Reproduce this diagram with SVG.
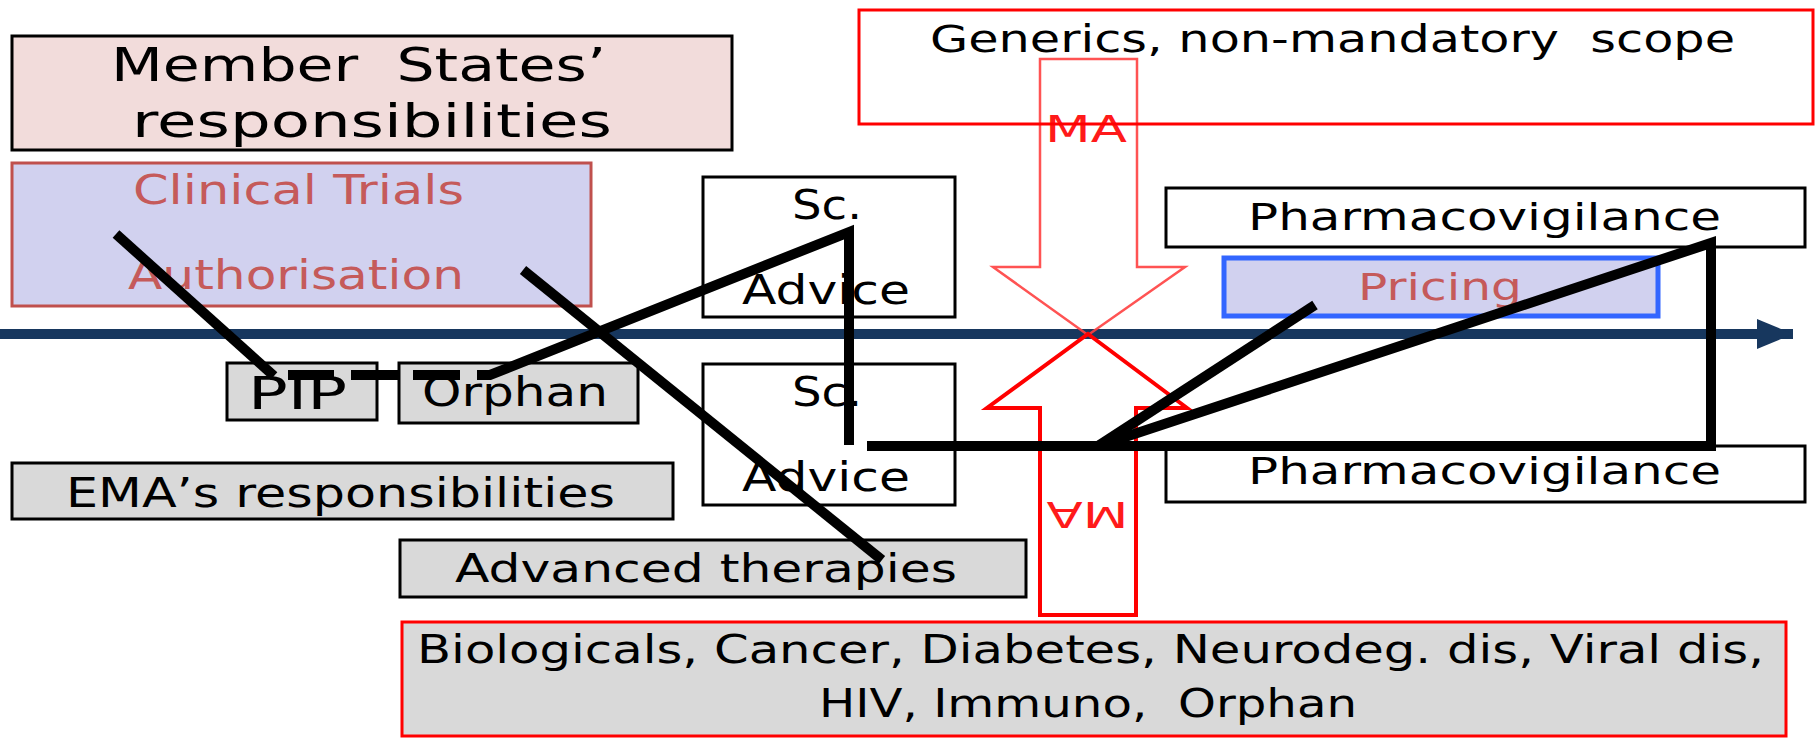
<svg xmlns="http://www.w3.org/2000/svg" width="1816" height="741" viewBox="0 0 1816 741">
  <style>
    text { font-family: "DejaVu Sans", Verdana, sans-serif; fill: #000; white-space: pre; }
    .box { stroke: #000; stroke-width: 3; }
    .white { fill: #fff; }
    .grey { fill: #d9d9d9; }
    .lav { fill: #d1d1ef; }
    .rose { fill: #f2dcdb; }
    .redtxt { fill: #c55a5a; }
    .link { fill: none; stroke: #000; stroke-width: 10; stroke-linecap: butt; stroke-linejoin: miter; }
  </style>
  <defs>
    <marker id="timeHead" markerUnits="userSpaceOnUse" markerWidth="40" markerHeight="34" refX="36" refY="15" orient="auto">
      <path d="M0,0 L36,15 L0,30 Z" fill="#17375e"/>
    </marker>
  </defs>

  <!-- timeline -->
  <g id="timeline">
    <line x1="0" y1="334" x2="1793" y2="334" stroke="#17375e" stroke-width="10" marker-end="url(#timeHead)"/>
  </g>

  <!-- marketing authorisation arrows -->
  <g id="ma-down">
    <polygon points="1040,59 1137,59 1137,267 1185,267 1088,335 993,267 1040,267" fill="none" stroke="#ff4040" stroke-width="2.5" stroke-opacity="0.9"/>
    <text x="1045" y="142" font-size="38" textLength="82" lengthAdjust="spacingAndGlyphs" style="fill:#ff1a1a">MA</text>
  </g>
  <g id="ma-up">
    <polygon points="1088,334 1187,408 1136,408 1136,615 1040,615 1040,408 987,408" fill="none" stroke="#ff0000" stroke-width="4"/>
    <text x="1087.5" y="528.5" font-size="36" text-anchor="middle" textLength="82" lengthAdjust="spacingAndGlyphs" transform="rotate(180 1087.5 515)" style="fill:#ff1a1a">MA</text>
  </g>

  <g id="member-states">
    <rect class="box rose" x="12" y="36" width="720" height="114"/>
    <text x="111" y="81" font-size="46" textLength="495" lengthAdjust="spacingAndGlyphs">Member  States’</text>
    <text x="132" y="137" font-size="46" textLength="480" lengthAdjust="spacingAndGlyphs">responsibilities</text>
  </g>

  <g id="clinical-trials">
    <rect class="lav" x="12" y="163" width="579" height="143" stroke="#c0504d" stroke-width="3"/>
    <text class="redtxt" x="133" y="204" font-size="40" textLength="331" lengthAdjust="spacingAndGlyphs">Clinical Trials</text>
    <text class="redtxt" x="128" y="289" font-size="40" textLength="336" lengthAdjust="spacingAndGlyphs">Authorisation</text>
  </g>

  <g id="generics">
    <rect x="859" y="10" width="954" height="114" fill="none" stroke="#ff0000" stroke-width="3"/>
    <text x="930" y="52" font-size="37" textLength="805" lengthAdjust="spacingAndGlyphs">Generics, non-mandatory  scope</text>
  </g>

  <g id="sc-advice-top">
    <rect class="box white" x="703" y="177" width="252" height="140"/>
    <text x="792" y="219" font-size="40" textLength="70" lengthAdjust="spacingAndGlyphs">Sc.</text>
    <text x="742" y="304" font-size="40" textLength="168" lengthAdjust="spacingAndGlyphs">Advice</text>
  </g>

  <g id="sc-advice-bottom">
    <rect class="box white" x="703" y="364" width="252" height="141"/>
    <text x="792" y="406" font-size="40" textLength="70" lengthAdjust="spacingAndGlyphs">Sc.</text>
    <text x="742" y="491" font-size="40" textLength="168" lengthAdjust="spacingAndGlyphs">Advice</text>
  </g>

  <g id="pharmacovigilance-top">
    <rect class="box white" x="1166" y="188" width="639" height="59"/>
    <text x="1248" y="230" font-size="38" textLength="473" lengthAdjust="spacingAndGlyphs">Pharmacovigilance</text>
  </g>

  <g id="pricing">
    <rect class="lav" x="1224" y="258" width="434" height="58" stroke="#3366ff" stroke-width="5"/>
    <text class="redtxt" x="1358" y="300" font-size="38" textLength="164" lengthAdjust="spacingAndGlyphs">Pricing</text>
  </g>

  <g id="pharmacovigilance-bottom">
    <rect class="box white" x="1166" y="446" width="639" height="56"/>
    <text x="1248" y="484" font-size="38" textLength="473" lengthAdjust="spacingAndGlyphs">Pharmacovigilance</text>
  </g>

  <g id="pip">
    <rect class="box grey" x="227" y="363" width="150" height="57"/>
    <text x="248" y="409" font-size="44" textLength="99" lengthAdjust="spacingAndGlyphs">PIP</text>
  </g>

  <g id="orphan">
    <rect class="box grey" x="399" y="363" width="239" height="60"/>
    <text x="422" y="406" font-size="40" textLength="186" lengthAdjust="spacingAndGlyphs">Orphan</text>
  </g>

  <g id="ema">
    <rect class="box grey" x="12" y="463" width="661" height="56"/>
    <text x="66" y="507" font-size="40" textLength="549" lengthAdjust="spacingAndGlyphs">EMA’s responsibilities</text>
  </g>

  <g id="advanced-therapies">
    <rect class="box grey" x="400" y="540" width="626" height="57"/>
    <text x="455" y="582" font-size="39" textLength="502" lengthAdjust="spacingAndGlyphs">Advanced therapies</text>
  </g>

  <g id="therapeutic-areas">
    <rect class="grey" x="402" y="622" width="1384" height="114" stroke="#ff0000" stroke-width="3"/>
    <text x="417" y="663" font-size="39" textLength="1347" lengthAdjust="spacingAndGlyphs">Biologicals, Cancer, Diabetes, Neurodeg. dis, Viral dis,</text>
    <text x="819" y="717" font-size="39" textLength="538" lengthAdjust="spacingAndGlyphs">HIV, Immuno,  Orphan</text>
  </g>

  <!-- connectors -->
  <g id="connectors">
    <line class="link" x1="116" y1="234" x2="274" y2="376"/>
    <line class="link" x1="288" y1="375" x2="334" y2="375"/>
    <line class="link" x1="351" y1="375" x2="398" y2="375"/>
    <line class="link" x1="413" y1="375" x2="460" y2="375"/>
    <polyline class="link" points="477,375 490,375 849,232 849,445"/>
    <line class="link" x1="523" y1="270" x2="882" y2="560"/>
    <polyline class="link" points="867,446 1711,446 1711,243 1098,446"/>
    <line class="link" x1="1315" y1="305" x2="1098" y2="446"/>
  </g>
</svg>
